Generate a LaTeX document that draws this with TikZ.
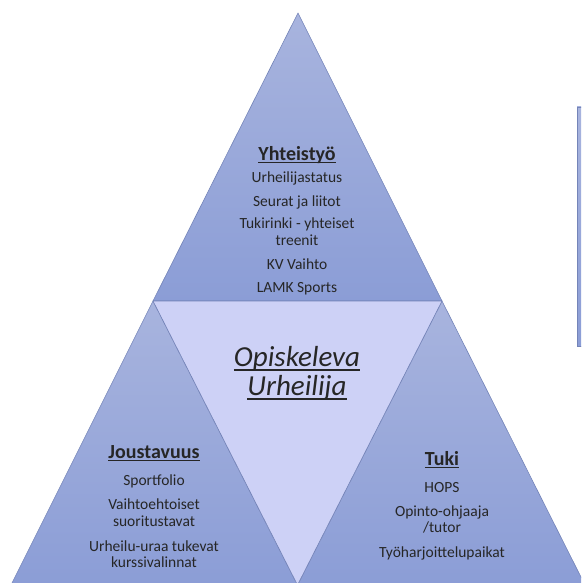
\documentclass[tikz,border=0pt]{standalone}
\usepackage{fontspec}
\setmainfont{Carlito}
\newcommand{\myul}[1]{\begingroup\setbox0\hbox{#1}\rlap{\rule[-0.17em]{\wd0}{0.06em}}\box0\endgroup}
\definecolor{triTop}{HTML}{A8B4DE}
\definecolor{triBot}{HTML}{8B9DD6}
\definecolor{innerFill}{HTML}{CDD1F6}
\definecolor{edgeCol}{HTML}{7484B8}
\definecolor{txtCol}{HTML}{262626}
\tikzset{
  outer/.style={top color=triTop, bottom color=triBot, draw=edgeCol, line width=0.6pt, line join=round},
  inner/.style={fill=innerFill, draw=edgeCol, line width=0.6pt, line join=round},
  headtxt/.style={anchor=base, inner sep=0pt, text=txtCol, font=\fontsize{20}{22}\selectfont\bfseries},
  itemtxt/.style={anchor=base, inner sep=0pt, text=txtCol, font=\fontsize{15.5}{18}\selectfont},
  centertxt/.style={anchor=base, inner sep=0pt, text=txtCol, font=\fontsize{29}{33}\selectfont\itshape},
}
\begin{document}
\begin{tikzpicture}[x=1pt,y=-1pt]
\useasboundingbox (0,0) rectangle (581,583);
\clip (0,0) rectangle (581,583);
% corner coordinates
\coordinate (A) at (298,13);
\coordinate (L) at (153,301);
\coordinate (R) at (442,301);
\coordinate (BL) at (10,587);
\coordinate (BM) at (297.5,585);
\coordinate (BR) at (586,587);
% side box (partially visible)
\shade[top color=triTop, bottom color=triBot, draw=edgeCol, line width=0.6pt] (577,107) rectangle (600,346);
% triangles
\shade[outer] (A) -- (R) -- (L) -- cycle;
\shade[outer] (L) -- (BM) -- (BL) -- cycle;
\shade[outer] (R) -- (BR) -- (BM) -- cycle;
\filldraw[inner] (L) -- (R) -- (BM) -- cycle;
% top texts
\node[headtxt] (y0) at (297,160) {\myul{Yhteistyö}};
\node[itemtxt] (y1) at (297,182) {Urheilijastatus};
\node[itemtxt] (y2) at (297,206) {Seurat ja liitot};
\node[itemtxt] (y3) at (297,228) {Tukirinki - yhteiset};
\node[itemtxt] (y4) at (297,245) {treenit};
\node[itemtxt] (y5) at (297,269) {KV Vaihto};
\node[itemtxt] (y6) at (297,292) {LAMK Sports};
% center
\node[centertxt] (c1) at (297,366) {\myul{Opiskeleva}};
\node[centertxt] (c2) at (297,395) {\myul{Urheilija}};
% left texts
\node[headtxt] (j0) at (154,458) {\myul{Joustavuus}};
\node[itemtxt] (j1) at (154,485) {Sportfolio};
\node[itemtxt] (j2) at (154,509) {Vaihtoehtoiset};
\node[itemtxt] (j3) at (154,526) {suoritustavat};
\node[itemtxt] (j4) at (154,551) {Urheilu-uraa tukevat};
\node[itemtxt] (j5) at (154,567) {kurssivalinnat};
% right texts
\node[headtxt] (t0) at (442,465) {\myul{Tuki}};
\node[itemtxt] (t1) at (442,492) {HOPS};
\node[itemtxt] (t2) at (442,516) {Opinto-ohjaaja};
\node[itemtxt] (t3) at (442,532) {/tutor};
\node[itemtxt] (t4) at (442,557) {Työharjoittelupaikat};
\end{tikzpicture}
\end{document}
